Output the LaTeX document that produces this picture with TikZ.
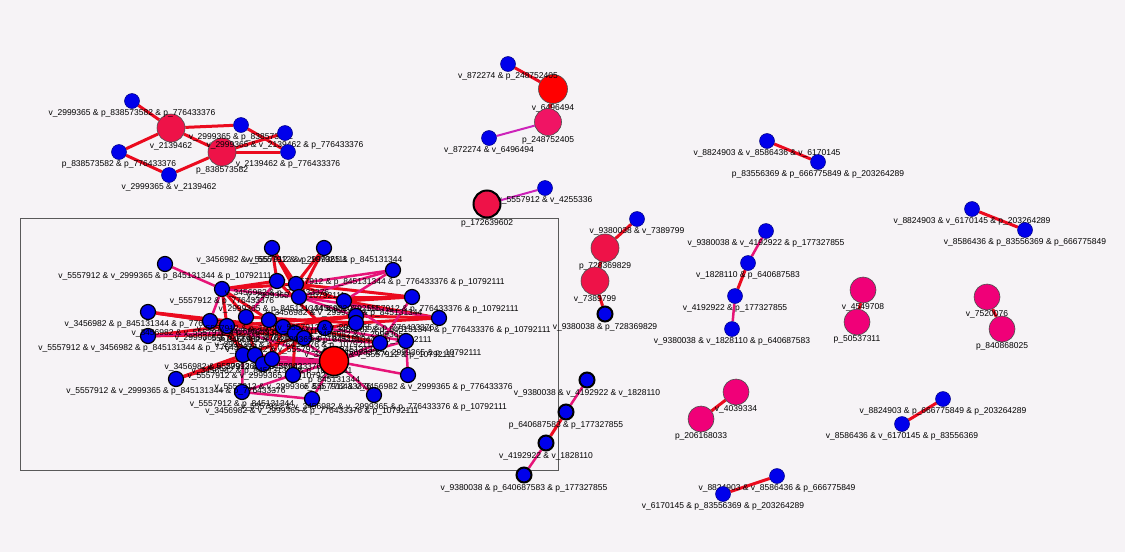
\documentclass[tikz,border=0pt]{standalone}
\usepackage{fontspec}
\setmainfont{Liberation Sans}
\pgfdeclarelayer{bg}
\pgfdeclarelayer{edges}
\pgfsetlayers{bg,edges,main}
\definecolor{bgc}{RGB}{246,243,246}
\definecolor{nblue}{RGB}{0,0,235}
\definecolor{ncrim}{RGB}{238,18,72}
\definecolor{ncrimp}{RGB}{240,20,100}
\definecolor{npink}{RGB}{240,0,120}
\definecolor{nred}{RGB}{255,0,0}
\definecolor{ered}{RGB}{235,10,30}
\definecolor{epink}{RGB}{230,20,120}
\definecolor{emag}{RGB}{205,35,185}
\newcommand\bnode[4]{\node[#1,label={[lbl]below:#4}] (#2) at (#3) {};}
\newcommand\edg[3]{\draw[#1] (#2) -- (#3);}
\begin{document}
\begin{tikzpicture}[x=1pt,y=-1pt,
  lbl/.style={font=\fontsize{8.5}{9}\selectfont, inner sep=0.5pt, text=black},
  vb/.style={circle, fill=nblue, draw=blue!50!black, line width=0.5pt, minimum size=15pt, inner sep=0pt},
  vbk/.style={vb, draw=black, line width=1.2pt},
  vbK/.style={vb, draw=black, line width=2pt},
  big/.style={circle, minimum size=28pt, inner sep=0pt, draw=black!70, line width=0.6pt},
  bigp/.style={big, fill=npink, minimum size=26pt},
  er/.style={draw=ered, line width=3pt},
  ep/.style={draw=epink, line width=2.5pt},
  em/.style={draw=emag, line width=2pt}]
\useasboundingbox (0,0) rectangle (1125,552);
\begin{pgfonlayer}{bg}
\fill[bgc] (0,0) rectangle (1125,552);
\draw[black!65, line width=0.8pt] (20,218) rectangle (558,470);
\end{pgfonlayer}

% group 1
\bnode{big,fill=ncrim}{A}{171,128}{v\_2139462}
\bnode{big,fill=ncrim}{B}{222,152}{p\_838573582}
\bnode{vb}{b1}{132,101}{v\_2999365 \& p\_838573582 \& p\_776433376}
\bnode{vb}{b2}{241,125}{v\_2999365 \& p\_838573582}
\bnode{vb}{b3}{285,133}{v\_2999365 \& v\_2139462 \& p\_776433376}
\bnode{vb}{b4}{288,152}{v\_2139462 \& p\_776433376}
\bnode{vb}{b5}{119,152}{p\_838573582 \& p\_776433376}
\bnode{vb}{b6}{169,175}{v\_2999365 \& v\_2139462}

% group 2
\bnode{big,fill=nred,minimum size=29pt}{g649}{553,89}{v\_6496494}
\bnode{big,fill=ncrimp,minimum size=27pt}{p248}{548,122}{p\_248752405}
\bnode{vb}{c1}{508,64}{v\_872274 \& p\_248752405}
\bnode{vb}{c2}{489,138}{v\_872274 \& v\_6496494}
\bnode{big,fill=ncrim,draw=black,line width=2pt,minimum size=27pt}{p172}{487,204}{p\_172639602}
\bnode{vb}{c3}{545,188}{v\_5557912 \& v\_4255336}

% group 3
\bnode{vb}{d1}{767,141}{v\_8824903 \& v\_8586436 \& v\_6170145}
\bnode{vb}{d2}{818,162}{p\_83556369 \& p\_666775849 \& p\_203264289}
\bnode{vb}{e1}{972,209}{v\_8824903 \& v\_6170145 \& p\_203264289}
\bnode{vb}{e2}{1025,230}{v\_8586436 \& p\_83556369 \& p\_666775849}

% group 4
\bnode{vb}{f1}{637,219}{v\_9380038 \& v\_7389799}
\bnode{big,fill=ncrim}{p728}{605,248}{p\_728369829}
\bnode{big,fill=ncrim}{v738}{595,281}{v\_7389799}
\bnode{vbK}{f2}{605,314}{v\_9380038 \& p\_728369829}
\bnode{vb}{g1}{766,231}{v\_9380038 \& v\_4192922 \& p\_177327855}
\bnode{vb}{g2}{748,263}{v\_1828110 \& p\_640687583}
\bnode{vb}{g3}{735,296}{v\_4192922 \& p\_177327855}
\bnode{vb}{g4}{732,329}{v\_9380038 \& v\_1828110 \& p\_640687583}

% group 5
\bnode{bigp}{v454}{863,290}{v\_4549708}
\bnode{bigp}{p505}{857,322}{p\_50537311}
\bnode{bigp}{v752}{987,297}{v\_7520076}
\bnode{bigp}{p840}{1002,329}{p\_840868025}
\bnode{bigp}{v403}{736,392}{v\_4039334}
\bnode{bigp}{p206}{701,419}{p\_206168033}
\bnode{vb}{h1}{943,399}{v\_8824903 \& p\_666775849 \& p\_203264289}
\bnode{vb}{h2}{902,424}{v\_8586436 \& v\_6170145 \& p\_83556369}
\bnode{vb}{i1}{777,476}{v\_8824903 \& v\_8586436 \& p\_666775849}
\bnode{vb}{i2}{723,494}{v\_6170145 \& p\_83556369 \& p\_203264289}

% group 6
\bnode{vbK}{j1}{587,380}{v\_9380038 \& v\_4192922 \& v\_1828110}
\bnode{vbK}{j2}{566,412}{p\_640687583 \& p\_177327855}
\bnode{vbK}{j3}{546,443}{v\_4192922 \& v\_1828110}
\bnode{vbK}{j4}{524,475}{v\_9380038 \& p\_640687583 \& p\_177327855}

% cluster
\bnode{vbk}{n1}{165,264}{v\_5557912 \& v\_2999365 \& p\_845131344 \& p\_10792111}
\bnode{vbk}{n2}{272,248}{v\_3456982 \& v\_5557912 \& p\_10792111}
\bnode{vbk}{n3}{324,248}{v\_5557912 \& v\_2999365 \& p\_845131344}
\bnode{vbk}{n4}{393,270}{v\_5557912 \& p\_845131344 \& p\_776433376 \& p\_10792111}
\bnode{vbk}{n5}{222,289}{v\_5557912 \& p\_776433376}
\bnode{vbk}{n6}{277,281}{v\_3456982 \& p\_776433376}
\bnode{vbk}{n7}{296,284}{v\_2999365 \& p\_10792111}
\bnode{vbk}{n8}{299,297}{v\_2999365 \& p\_845131344 \& p\_10792111}
\bnode{vbk}{n9}{344,301}{v\_3456982 \& v\_2999365 \& p\_845131344}
\bnode{vbk}{n10}{412,297}{v\_3456982 \& v\_5557912 \& p\_776433376 \& p\_10792111}
\bnode{vbk}{n11}{439,318}{v\_3456982 \& p\_845131344 \& p\_776433376 \& p\_10792111}
\bnode{vbk}{n12}{148,312}{v\_3456982 \& p\_845131344 \& p\_776433376}
\bnode{vbk}{n13}{148,336}{v\_5557912 \& v\_3456982 \& p\_845131344 \& p\_776433376}
\bnode{vbk}{n14}{210,321}{v\_3456982 \& v\_5557912 \& p\_776433376}
\bnode{vbk}{n15}{227,326}{v\_2999365 \& p\_776433376}
\bnode{vbk}{n16}{246,317}{v\_5557912 \& p\_10792111}
\bnode{vbk}{n17}{269,320}{v\_3456982 \& p\_10792111}
\bnode{vbk}{n18}{283,327}{v\_5557912 \& p\_776433376 \& p\_10792111}
\bnode{vbk}{n19}{295,333}{v\_2999365 \& p\_776433376 \& p\_10792111}
\bnode{vbk}{n20}{304,338}{v\_3456982 \& v\_5557912 \& p\_845131344}
\bnode{vbk}{n21}{325,328}{v\_3456982 \& v\_2999365 \& p\_845131344 \& p\_10792111}
\bnode{vbk}{n22}{356,316}{v\_5557912 \& v\_2999365 \& p\_776433376}
\bnode{vbk}{n23}{356,323}{v\_3456982 \& v\_2999365}
\bnode{vbk}{n24}{380,343}{v\_3456982 \& v\_5557912 \& p\_10792111}
\bnode{vbk}{n25}{406,341}{v\_3456982 \& v\_2999365 \& p\_10792111}
\bnode{vbk}{n27}{243,355}{v\_3456982 \& v\_2999365 \& p\_776433376}
\bnode{vbk}{n28}{255,355}{v\_5557912 \& v\_3456982}
\bnode{vbk}{n29}{263,364}{v\_5557912 \& v\_2999365 \& p\_10792111}
\bnode{vbk}{n30}{272,359}{v\_3456982 \& p\_845131344 \& p\_10792111}
\bnode{vbk}{n31}{293,375}{v\_5557912 \& v\_2999365 \& p\_776433376}
\bnode{vbk}{n32}{242,392}{v\_5557912 \& p\_845131344}
\bnode{vbk}{n33}{312,399}{v\_3456982 \& v\_2999365 \& p\_776433376 \& p\_10792111}
\bnode{vbk}{n34}{374,395}{v\_5557912 \& v\_3456982 \& v\_2999365 \& p\_776433376 \& p\_10792111}
\bnode{vbk}{n35}{408,375}{v\_5557912 \& v\_3456982 \& v\_2999365 \& p\_776433376}
\bnode{vbk}{n36}{176,379}{v\_5557912 \& v\_2999365 \& p\_845131344 \& p\_776433376}
\bnode{big,fill=nred,draw=black,line width=1.5pt,minimum size=29pt}{R}{334,361}{p\_845131344}

\begin{pgfonlayer}{edges}
\edg{er}{b1}{A}\edg{er}{A}{b2}\edg{er}{b2}{b4}\edg{er}{A}{B}\edg{er}{A}{b5}
\edg{er}{b5}{b6}\edg{er}{b6}{B}\edg{er}{B}{b3}\edg{er}{B}{b4}
\edg{er}{c1}{g649}\edg{er}{g649}{p248}\edg{em}{p248}{c2}\edg{em}{p172}{c3}
\edg{er}{d1}{d2}\edg{er}{e1}{e2}
\edg{er}{f1}{p728}\edg{er}{p728}{v738}\edg{er}{v738}{f2}
\edg{ep}{g1}{g2}\edg{er}{g2}{g3}\edg{ep}{g3}{g4}
\edg{er}{v454}{p505}\edg{er}{v752}{p840}\edg{er}{v403}{p206}
\edg{er}{h1}{h2}\edg{er}{i1}{i2}
\edg{ep}{j1}{j2}\edg{er}{j2}{j3}\edg{ep}{j3}{j4}
% cluster
\edg{ep}{n1}{n5}\edg{er}{n2}{n6}\edg{er}{n2}{n7}\edg{er}{n3}{n7}\edg{ep}{n7}{n4}
\edg{er}{n5}{n6}\edg{er}{n5}{n7}\edg{ep}{n5}{n8}\edg{ep}{n5}{n14}\edg{er}{n5}{n15}
\edg{er}{n5}{n16}\edg{er}{n5}{n17}\edg{ep}{n6}{n16}\edg{er}{n7}{n9}\edg{er}{n7}{n10}
\edg{er}{n8}{n10}\edg{er}{n9}{n10}\edg{er}{n9}{n11}\edg{ep}{n8}{n11}\edg{er}{n23}{n11}
\edg{er}{n22}{n11}\edg{er}{n12}{n14}\edg{er}{n12}{n18}\edg{er}{n13}{n15}\edg{er}{n13}{n19}
\edg{er}{n14}{n29}\edg{er}{n15}{n27}\edg{er}{n16}{n28}\edg{er}{n17}{n30}\edg{er}{n18}{n22}
\edg{er}{n19}{n23}\edg{ep}{n20}{n24}\edg{ep}{n21}{n25}\edg{ep}{n8}{n22}\edg{er}{n6}{n21}
\edg{ep}{n14}{R}\edg{ep,line width=5pt}{n29}{R}\edg{ep}{n28}{R}\edg{ep}{n27}{R}\edg{ep}{n30}{R}
\edg{ep}{n17}{R}\edg{er}{n36}{n27}\edg{er}{n36}{n28}\edg{ep}{n32}{n27}\edg{ep}{n32}{n33}
\edg{ep}{n32}{R}\edg{ep}{n33}{R}\edg{ep}{n31}{R}\edg{ep}{n34}{R}\edg{ep}{n35}{R}
\edg{ep}{n24}{R}\edg{ep}{n25}{n35}\edg{ep}{n25}{R}\edg{ep}{n9}{n25}\edg{ep}{n10}{n24}
\edg{er}{n20}{n29}\edg{er}{n18}{n30}\edg{er}{n19}{n31}\edg{er}{n21}{n27}\edg{ep}{n4}{n9}
\edg{ep}{n4}{n8}\edg{er}{n3}{n8}\edg{er}{n2}{n8}\edg{er}{n15}{n22}\edg{er}{n16}{n23}
\edg{er}{n17}{n24}\edg{er}{n14}{n20}\edg{ep}{n13}{n21}\edg{er}{n12}{n19}
\end{pgfonlayer}
\end{tikzpicture}
\end{document}
